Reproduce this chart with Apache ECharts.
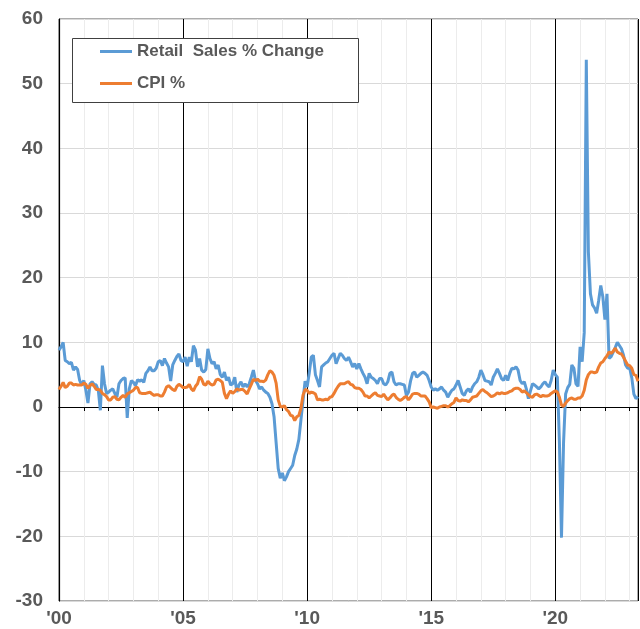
<!DOCTYPE html>
<html>
<head>
<meta charset="utf-8">
<script src="https://cdn.jsdelivr.net/npm/echarts@6/dist/echarts.min.js"></script>
<style>
  html, body { margin: 0; padding: 0; background: #ffffff; }
  #chart { width: 640px; height: 629px; }
</style>
</head>
<body>
<div id="chart"></div>
<script>
// Monthly year-over-year % changes, January 2000 through May 2023
const startYear = 2000;

const seriesNames = ['Retail  Sales % Change', 'CPI %'];

const retailSales = [
  // 2000
  8.8, 9.3, 10.0, 7.2, 7.0, 6.7, 6.9, 5.7, 6.2, 5.8, 4.1, 3.4,
  // 2001
  4.1, 2.6, 0.6, 3.6, 3.9, 3.5, 3.4, 2.6, -0.5, 6.4, 3.6, 2.1,
  // 2002
  2.3, 2.6, 2.8, 2.1, 1.5, 3.6, 4.1, 4.4, 4.5, -1.7, 2.8, 4.1,
  // 2003
  3.8, 3.3, 4.2, 4.0, 4.2, 3.8, 5.2, 5.6, 6.2, 5.6, 5.6, 6.0,
  // 2004
  7.0, 7.2, 6.4, 7.5, 6.8, 6.2, 4.0, 6.5, 7.2, 7.8, 8.2, 7.2,
  // 2005
  7.0, 7.7, 6.3, 7.7, 7.0, 9.5, 8.8, 6.2, 7.5, 5.7, 5.4, 5.8,
  // 2006
  9.0, 7.5, 6.7, 7.0, 5.9, 6.5, 5.0, 4.6, 5.4, 4.1, 4.6, 3.4,
  // 2007
  3.6, 4.6, 2.3, 3.4, 3.9, 3.1, 3.6, 3.1, 3.6, 4.6, 5.7, 4.1,
  // 2008
  3.6, 2.8, 3.1, 2.6, 2.3, 2.1, 1.5, 0.5, -1.5, -5.5, -9.5, -11.0,
  // 2009
  -10.2, -11.4, -10.8, -10.0, -9.5, -9.0, -7.5, -6.5, -5.0, -2.0, 1.0, 4.0,
  // 2010
  3.1, 5.2, 7.7, 8.0, 5.0, 4.1, 3.1, 6.2, 6.5, 6.8, 7.0, 7.5,
  // 2011
  8.0, 8.3, 6.7, 7.5, 8.3, 8.0, 7.5, 7.2, 7.7, 7.0, 6.2, 6.7,
  // 2012
  5.9, 6.7, 5.9, 5.2, 4.6, 3.6, 5.2, 4.6, 4.4, 4.1, 3.6, 4.4,
  // 2013
  4.4, 3.6, 3.4, 3.9, 5.2, 5.4, 3.9, 3.4, 3.6, 3.6, 3.5, 3.4,
  // 2014
  1.8, 2.3, 4.0, 5.2, 5.4, 4.6, 4.9, 5.2, 5.4, 5.2, 4.9, 4.1,
  // 2015
  3.1, 2.6, 2.8, 2.6, 2.8, 3.1, 2.6, 2.3, 1.5, 2.1, 2.6, 2.8,
  // 2016
  3.4, 4.1, 3.1, 2.1, 1.8, 2.5, 2.8, 2.3, 3.1, 3.6, 3.9, 4.6,
  // 2017
  5.7, 5.0, 4.1, 4.0, 3.9, 3.4, 4.6, 5.2, 5.9, 5.2, 4.4, 4.1,
  // 2018
  4.9, 4.1, 5.2, 6.0, 5.9, 6.2, 5.7, 4.1, 3.6, 3.9, 2.8, 1.3,
  // 2019
  2.5, 3.6, 3.4, 3.1, 2.8, 3.1, 3.6, 3.9, 3.4, 3.1, 4.1, 5.7,
  // 2020
  5.0, 4.6, -5.5, -20.2, -5.5, 2.0, 3.0, 3.5, 6.5, 6.0, 3.6, 3.2,
  // 2021
  9.3, 7.0, 11.5, 53.7, 24.0, 17.5, 15.8, 15.3, 14.5, 16.5, 18.8, 17.0,
  // 2022
  13.5, 17.5, 7.5, 7.8, 8.5, 9.2, 10.0, 9.5, 9.0, 8.0, 6.5, 6.0,
  // 2023
  6.0, 4.5, 2.0, 1.3, 1.6
];

const cpi = [
  // 2000
  2.7, 3.2, 3.8, 3.0, 3.2, 3.7, 3.7, 3.4, 3.5, 3.4, 3.4, 3.4,
  // 2001
  3.7, 3.5, 2.9, 3.3, 3.6, 3.2, 2.7, 2.7, 2.6, 2.1, 1.9, 1.6,
  // 2002
  1.1, 1.1, 1.5, 1.6, 1.2, 1.1, 1.5, 1.8, 1.5, 2.0, 2.2, 2.4,
  // 2003
  2.6, 3.0, 3.0, 2.2, 2.1, 2.1, 2.1, 2.2, 2.3, 2.0, 1.8, 1.9,
  // 2004
  1.9, 1.7, 1.7, 2.3, 3.1, 3.3, 3.0, 2.7, 2.5, 3.2, 3.5, 3.3,
  // 2005
  3.0, 3.0, 3.1, 3.5, 2.8, 2.5, 3.2, 3.6, 4.7, 4.3, 3.5, 3.4,
  // 2006
  4.0, 3.6, 3.4, 3.5, 4.2, 4.3, 4.1, 3.8, 2.1, 1.3, 2.0, 2.5,
  // 2007
  2.1, 2.4, 2.8, 2.6, 2.7, 2.7, 2.4, 2.0, 2.8, 3.5, 4.3, 4.1,
  // 2008
  4.3, 4.0, 4.0, 3.9, 4.2, 5.0, 5.6, 5.4, 4.9, 3.7, 1.1, 0.1,
  // 2009
  0.0, 0.2, -0.4, -0.7, -1.3, -1.4, -2.1, -1.5, -1.3, -0.2, 1.8, 2.7,
  // 2010
  2.6, 2.1, 2.3, 2.2, 2.0, 1.1, 1.2, 1.1, 1.1, 1.2, 1.1, 1.5,
  // 2011
  1.6, 2.1, 2.7, 3.2, 3.6, 3.6, 3.6, 3.8, 3.9, 3.5, 3.4, 3.0,
  // 2012
  2.9, 2.9, 2.7, 2.3, 1.7, 1.7, 1.4, 1.7, 2.0, 2.2, 1.8, 1.7,
  // 2013
  1.6, 2.0, 1.5, 1.1, 1.4, 1.8, 2.0, 1.5, 1.2, 1.0, 1.2, 1.5,
  // 2014
  1.6, 1.1, 1.5, 2.0, 2.1, 2.1, 2.0, 1.7, 1.7, 1.7, 1.3, 0.8,
  // 2015
  -0.1, 0.0, -0.1, -0.2, 0.0, 0.1, 0.2, 0.2, 0.0, 0.2, 0.5, 0.7,
  // 2016
  1.4, 1.0, 0.9, 1.1, 1.0, 1.0, 0.8, 1.1, 1.5, 1.6, 1.7, 2.1,
  // 2017
  2.5, 2.7, 2.4, 2.2, 1.9, 1.6, 1.7, 1.9, 2.2, 2.0, 2.2, 2.1,
  // 2018
  2.1, 2.2, 2.4, 2.5, 2.8, 2.9, 2.9, 2.7, 2.3, 2.5, 2.2, 1.9,
  // 2019
  1.6, 1.5, 1.9, 2.0, 1.8, 1.6, 1.8, 1.7, 1.7, 1.8, 2.1, 2.3,
  // 2020
  2.5, 2.3, 1.5, 0.3, 0.1, 0.6, 1.0, 1.3, 1.4, 1.2, 1.2, 1.4,
  // 2021
  1.4, 1.7, 2.6, 4.2, 5.0, 5.4, 5.4, 5.3, 5.4, 6.2, 6.8, 7.0,
  // 2022
  7.5, 7.9, 8.5, 8.3, 8.6, 9.1, 8.5, 8.3, 8.2, 7.7, 7.1, 6.5,
  // 2023
  6.4, 6.0, 5.0, 4.9, 4.0
];

// Year labels shown under every fifth year
const yearTickLabels = ["'00", "'05", "'10", "'15", "'20"];

const yAxisMin = -30;
const yAxisMax = 60;
const yAxisStep = 10;

// Month index -> fractional year position on the value axis
function toPoints(values) {
  return values.map(function (v, i) { return [startYear + i / 12, v]; });
}
const lastX = startYear + (retailSales.length - 1) / 12;

const fontFamily = "'Liberation Sans', Arial, Helvetica, sans-serif";
const labelColor = '#595959';

const chart = echarts.init(document.getElementById('chart'), null, { renderer: 'canvas' });

chart.setOption({
  animation: false,
  backgroundColor: '#ffffff',
  grid: {
    left: 59,
    right: 2,
    top: 19,
    bottom: 28,
    show: true,
    borderColor: '#595959',
    borderWidth: 1,
    backgroundColor: 'transparent'
  },
  graphic: [{
    type: 'rect',
    z: 3,
    silent: true,
    shape: { x: 72.5, y: 38.5, width: 286, height: 64 },
    style: { fill: '#ffffff', stroke: '#404040', lineWidth: 1 }
  }],
  legend: {
    z: 10,
    left: 95,
    top: 38,
    orient: 'vertical',
    itemWidth: 32,
    itemHeight: 3,
    itemGap: 15,
    itemTextGap: 3,
    icon: 'rect',
    data: seriesNames,
    textStyle: {
      color: labelColor,
      fontWeight: 'bold',
      fontSize: 17,
      fontFamily: fontFamily
    }
  },
  xAxis: [
    {
      // yearly gridlines and the zero line with its ticks
      type: 'value',
      min: startYear,
      max: lastX,
      interval: 1,
      position: 'bottom',
      axisLine: { show: true, onZero: true, lineStyle: { color: '#000000', width: 1.2 } },
      axisTick: { show: true, length: 4, lineStyle: { color: '#000000', width: 1 } },
      axisLabel: { show: false },
      splitLine: { show: true, lineStyle: { color: '#ececec', width: 1 } }
    },
    {
      // five-year dividers and the year labels along the bottom
      type: 'value',
      min: startYear,
      max: lastX,
      interval: 5,
      position: 'bottom',
      axisLine: { show: false, onZero: false },
      axisTick: { show: false },
      axisLabel: {
        show: true,
        margin: 8,
        color: labelColor,
        fontWeight: 'bold',
        fontSize: 19,
        fontFamily: fontFamily,
        showMaxLabel: false,
        formatter: function (value) {
          const k = Math.round((value - startYear) / 5);
          if (Math.abs(value - (startYear + k * 5)) > 1e-6) return '';
          return yearTickLabels[k] || '';
        }
      },
      splitLine: { show: true, lineStyle: { color: '#000000', width: 1 } }
    }
  ],
  yAxis: {
    type: 'value',
    min: yAxisMin,
    max: yAxisMax,
    interval: yAxisStep,
    axisLine: { show: true, lineStyle: { color: '#000000', width: 1.2 } },
    axisTick: { show: false },
    axisLabel: {
      margin: 16,
      color: labelColor,
      fontWeight: 'bold',
      fontSize: 19,
      fontFamily: fontFamily
    },
    splitLine: { show: true, lineStyle: { color: '#d9d9d9', width: 1 } }
  },
  series: [
    {
      name: seriesNames[0],
      type: 'line',
      xAxisIndex: 0,
      data: toPoints(retailSales),
      showSymbol: false,
      symbol: 'none',
      lineStyle: { color: '#5B9BD5', width: 3 },
      itemStyle: { color: '#5B9BD5' },
      z: 2
    },
    {
      name: seriesNames[1],
      type: 'line',
      xAxisIndex: 0,
      data: toPoints(cpi),
      showSymbol: false,
      symbol: 'none',
      lineStyle: { color: '#ED7D31', width: 3 },
      itemStyle: { color: '#ED7D31' },
      z: 2
    }
  ]
});
</script>
</body>
</html>
